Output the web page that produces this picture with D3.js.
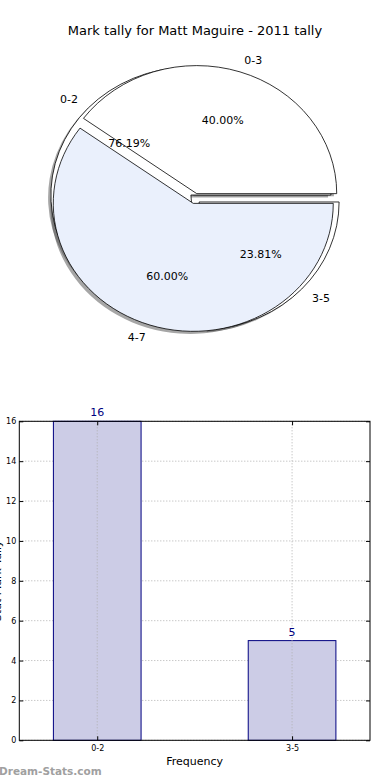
<!DOCTYPE html>
<html><head><meta charset="utf-8">
<script src="https://cdn.jsdelivr.net/npm/d3@7"></script>
<style>body{margin:0;background:#fff}svg{display:block}text{font-family:"DejaVu Sans",sans-serif}</style>
</head><body>
<svg id="c" width="390" height="780"></svg>
<script>
const title = "Mark tally for Matt Maguire - 2011 tally";
// pie 1 (drawn first, underneath)
const pie1Labels = ["0-2", "3-5"];
const pie1Values = [16, 5];
// pie 2 (drawn on top)
const pie2Labels = ["0-3", "4-7"];
const pie2Values = [40, 60];
// bar chart
const barCategories = ["0-2", "3-5"];
const barValues = [16, 5];
const yTicks = [0, 2, 4, 6, 8, 10, 12, 14, 16];

const svg = d3.select("#c");
svg.append("text").attr("x", 195).attr("y", 35).attr("text-anchor", "middle")
  .attr("font-size", 13).text(title);

// ---------- pie ----------
const cx = 195, cy = 198.5, rx = 140, ry = 128, explode = 0.04, shadowOff = 0.02;
const pieGen = d3.pie().sort(null).startAngle(Math.PI / 2).endAngle(Math.PI / 2 - 2 * Math.PI);
const arcGen = d3.arc().innerRadius(0).outerRadius(1);
const pies = [
  {labels: pie1Labels, values: pie1Values, colors: ["#ffffff", "#ffffff"]},
  {labels: pie2Labels, values: pie2Values, colors: ["#ffffff", "#eaf0fc"]}
];
const gShadow = svg.append("g"), gWedge = svg.append("g"), gText = svg.append("g");
pies.forEach(p => {
  const arcs = pieGen(p.values);
  const total = d3.sum(p.values);
  arcs.forEach((a, i) => {
    const mid = (a.startAngle + a.endAngle) / 2;
    const ux = Math.sin(mid), uy = -Math.cos(mid);
    const ox = cx + explode * ux * rx, oy = cy + explode * uy * ry;
    gShadow.append("path").attr("d", arcGen(a))
      .attr("transform", `translate(${ox - shadowOff * rx},${oy + shadowOff * ry}) scale(${rx},${ry})`)
      .attr("fill", "#4d4d4d").attr("fill-opacity", 0.5).attr("stroke", "none");
    gWedge.append("path").attr("d", arcGen(a))
      .attr("transform", `translate(${ox},${oy}) scale(${rx},${ry})`)
      .attr("fill", p.colors[i]).attr("stroke", "#000").attr("stroke-width", 0.8)
      .attr("vector-effect", "non-scaling-stroke").attr("stroke-linejoin", "miter");
    const lx = ox + 1.1 * ux * rx, ly = oy + 1.1 * uy * ry;
    gText.append("text").attr("x", lx).attr("y", ly).attr("dy", "0.35em")
      .attr("text-anchor", ux > 0 ? "start" : "end").attr("font-size", 11).text(p.labels[i]);
    const px = ox + 0.6 * ux * rx, py = oy + 0.6 * uy * ry;
    gText.append("text").attr("x", px).attr("y", py).attr("dy", "0.35em")
      .attr("text-anchor", "middle").attr("font-size", 11)
      .text((100 * p.values[i] / total).toFixed(2) + "%");
  });
});

// ---------- bar chart ----------
const L = 19.3, R = 370, T = 421.3, B = 740.3;
const x = d3.scaleLinear().domain([-0.4, 1.4]).range([L, R]);
const y = d3.scaleLinear().domain([0, 16]).range([B, T]);
const bw = 0.45;
const g = svg.append("g");
// grid
g.selectAll(".hg").data(yTicks).join("line")
  .attr("x1", L).attr("x2", R).attr("y1", d => y(d)).attr("y2", d => y(d))
  .attr("stroke", "#b0b0b0").attr("stroke-dasharray", "1,2");
// bars
g.selectAll(".bar").data(barValues).join("rect")
  .attr("x", (d, i) => x(i - bw / 2)).attr("width", x(bw) - x(0))
  .attr("y", d => y(d)).attr("height", d => B - y(d))
  .attr("fill", "#ccccE6").attr("stroke", "#000080").attr("stroke-width", 1);
g.selectAll(".vg").data(barCategories).join("line")
  .attr("x1", (d, i) => x(i)).attr("x2", (d, i) => x(i)).attr("y1", T).attr("y2", B)
  .attr("stroke", "#b0b0b0").attr("stroke-dasharray", "1,2");
g.selectAll(".vl").data(barValues).join("text")
  .attr("x", (d, i) => x(i)).attr("y", d => y(d) - 5).attr("text-anchor", "middle")
  .attr("font-size", 11).attr("fill", "#000080").text(d => d);
// frame
g.append("rect").attr("x", L).attr("y", T).attr("width", R - L).attr("height", B - T)
  .attr("fill", "none").attr("stroke", "#000").attr("stroke-width", 1);
// axes
const yAxis = d3.axisLeft(y).tickValues(yTicks).tickSize(-4).tickPadding(3);
const ya = g.append("g").attr("transform", `translate(${L},0)`).call(yAxis);
ya.select(".domain").remove();
ya.selectAll("text").attr("font-size", 8).attr("font-family", "DejaVu Sans Condensed, DejaVu Sans");
const yAxisR = d3.axisRight(y).tickValues(yTicks).tickSize(-4).tickFormat("");
const yr = g.append("g").attr("transform", `translate(${R},0)`).call(yAxisR);
yr.select(".domain").remove();
const xAxis = d3.axisBottom(x).tickValues([0, 1]).tickFormat((d, i) => barCategories[i]).tickSize(-4).tickPadding(5);
const xa = g.append("g").attr("transform", `translate(0,${B})`).call(xAxis);
xa.select(".domain").remove();
xa.selectAll("text").attr("font-size", 8).attr("font-family", "DejaVu Sans Condensed, DejaVu Sans");
const xAxisT = d3.axisTop(x).tickValues([0, 1]).tickSize(-4).tickFormat("");
const xt = g.append("g").attr("transform", `translate(0,${T})`).call(xAxisT);
xt.select(".domain").remove();

svg.append("text").attr("x", (L + R) / 2).attr("y", 765).attr("text-anchor", "middle")
  .attr("font-size", 11).text("Frequency");
svg.append("text").attr("transform", `translate(0.8,${(T + B) / 2}) rotate(-90)`)
  .attr("text-anchor", "middle").attr("font-size", 11).text("Stat Mark Tally");
svg.append("text").attr("x", -1).attr("y", 775).attr("font-size", 10.5).attr("font-weight", "bold")
  .attr("fill", "#a0a0a0").text("Dream-Stats.com");
</script>
</body></html>
